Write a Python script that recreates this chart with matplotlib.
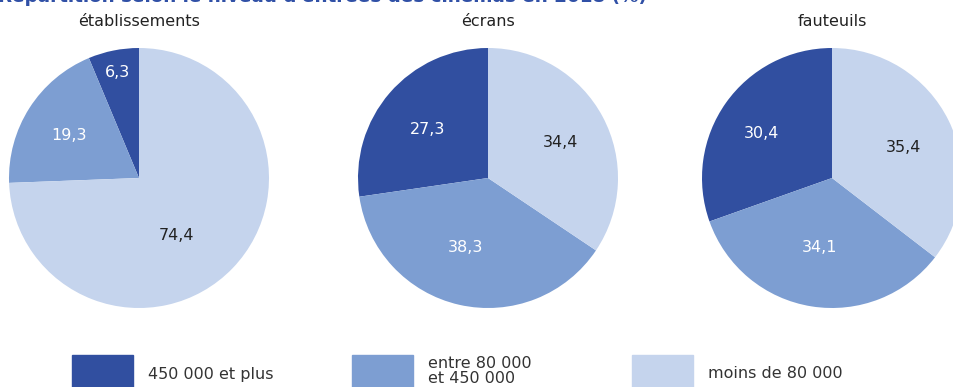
import numpy as np
import matplotlib.pyplot as plt

plt.rcParams['font.family'] = ['DejaVu Sans']

# parts des cinémas par tranche d'entrées (%)
tranches = ['450 000 et plus', 'entre 80 000\net 450 000', 'moins de 80 000']
etablissements = [6.3, 19.3, 74.4]
ecrans = [27.3, 38.3, 34.4]
fauteuils = [30.4, 34.1, 35.4]
titres = ['établissements', 'écrans', 'fauteuils']

couleurs = ['#314fa0', '#7d9ed2', '#c5d4ed']
couleurs_texte = ['white', 'white', '#222222']

W, H = 954, 387
fig = plt.figure(figsize=(W / 100, H / 100), dpi=100)

fig.text(-0.002, 1 - 1.5 / H, "Répartition selon le niveau d'entrées des cinémas en 2018 (%)",
         color='#3050a6', fontsize=13.2, fontweight='bold', ha='left', va='baseline')


def camembert(cx, cy, r, valeurs, titre, pos_labels):
    ax = fig.add_axes([(cx - r) / W, (H - cy - r) / H, 2 * r / W, 2 * r / H])
    wedges, _ = ax.pie(valeurs, colors=couleurs, startangle=90, counterclock=True,
                       radius=1, wedgeprops=dict(linewidth=0))
    ax.set_xlim(-1, 1)
    ax.set_ylim(-1, 1)
    # (distance au centre, décalage angulaire en degrés) pour chaque étiquette
    for w, v, (d, da), c in zip(wedges, valeurs, pos_labels, couleurs_texte):
        ang = np.deg2rad((w.theta1 + w.theta2) / 2 + da)
        ax.text(d * np.cos(ang), d * np.sin(ang), f'{v:.1f}'.replace('.', ','),
                ha='center', va='center', fontsize=11.5, color=c)
    for w in wedges:
        w.set_clip_on(False)
    fig.text(cx / W, 1 - 21 / H, titre, ha='center', va='center', fontsize=11.5, color='#222222')


camembert(139, 178, 130, etablissements, titres[0], [(0.83, 0), (0.63, 1), (0.53, -13)])
camembert(488, 178, 130, ecrans, titres[1], [(0.60, 2), (0.56, -5), (0.62, -2)])
camembert(832, 178, 130, fauteuils, titres[2], [(0.64, 3), (0.54, -1), (0.60, -3)])

# légende
for i, (lab, c) in enumerate(zip(tranches, couleurs)):
    x0 = 72 + i * 280
    fig.patches.append(plt.Rectangle((x0 / W, 0), 61 / W, 32 / H, color=c,
                                     transform=fig.transFigure, figure=fig))
    y_txt = 371 if '\n' in lab else 374
    fig.text((x0 + 76) / W, 1 - y_txt / H, lab, ha='left', va='center', fontsize=11.5,
             color='#333333', linespacing=1.05)

fig.savefig('out.png', dpi=100)
